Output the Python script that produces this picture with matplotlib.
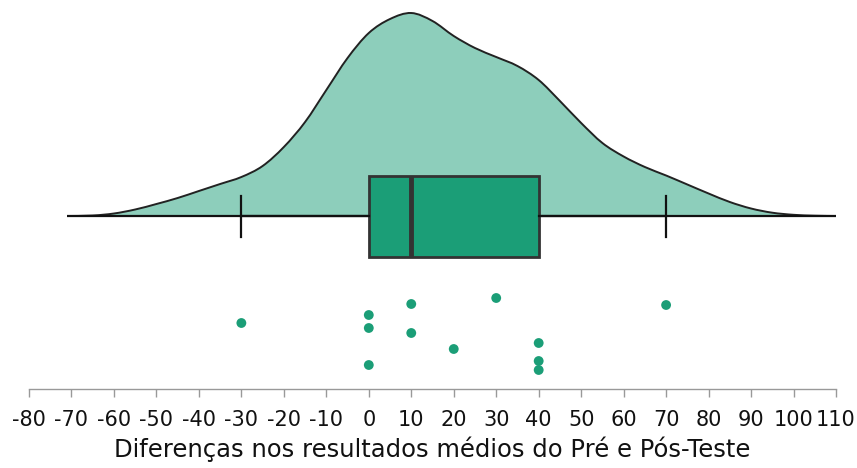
import numpy as np
import matplotlib
matplotlib.use("Agg")
import matplotlib.pyplot as plt
from matplotlib.path import Path
from matplotlib.patches import PathPatch

# observed differences (pre vs post) and their vertical jitter in the rain
pontos = [-30, 0, 0, 0, 10, 10, 20, 30, 40, 40, 40, 70]
jitter = [66, 74, 61, 24, 85, 56, 40, 91, 46, 28, 19, 84]

# box summary as shown
q1, mediana, q3 = 0, 10, 40
bigode_min, bigode_max = -30, 70

# density (cloud), relative height
dens_x = [-71, -65, -60, -55, -50, -45, -40, -35, -30, -25, -20, -15, -10, -5,
          0, 5, 10, 15, 20, 25, 30, 35, 40, 45, 50, 55, 60, 65, 70, 75, 80,
          85, 90, 95, 100, 105, 110]
dens_h = [0, 0.5, 2.5, 6.5, 12, 18, 25, 32, 39, 50, 69, 94, 126, 158,
          183, 197, 203, 195, 180, 168, 159, 150, 136, 115, 93, 73, 59.5, 49, 40.5, 31.5, 22.5,
          14, 7.5, 3.3, 1.2, 0.3, 0]

verde = "#1b9e77"
verde_claro = "#8dcebb"

fig = plt.figure(figsize=(8.57, 4.68), dpi=100)
ax = fig.add_axes([29 / 857, 1 - 389 / 468, 807 / 857, 389 / 468])

base = 173
xs = np.array(dens_x, dtype=float)
ys = base + np.array(dens_h, dtype=float) / max(dens_h) * 203

# smooth curve through the read points (catmull-rom -> bezier)
P = np.column_stack([xs, ys])
Pp = np.vstack([P[0], P, P[-1]])
verts = [tuple(P[0])]
codes = [Path.MOVETO]
for i in range(1, len(Pp) - 2):
    p0, p1, p2, p3 = Pp[i - 1], Pp[i], Pp[i + 1], Pp[i + 2]
    c1 = p1 + (p2 - p0) / 6
    c2 = p2 - (p3 - p1) / 6
    verts += [tuple(c1), tuple(c2), tuple(p2)]
    codes += [Path.CURVE4] * 3
curva = Path(verts, codes)
fechada = Path(verts + [(xs[-1], base), (xs[0], base), (xs[0], base)],
               codes + [Path.LINETO, Path.LINETO, Path.CLOSEPOLY])
ax.add_patch(PathPatch(fechada, facecolor=verde_claro, edgecolor="none", zorder=1))
ax.add_patch(PathPatch(curva, facecolor="none", edgecolor="#222222", lw=1.4, zorder=2))
ax.hlines(base, xs[0], xs[-1], color="#111111", lw=1.6, zorder=2)

# boxplot
stats = [dict(med=mediana, q1=q1, q3=q3, whislo=bigode_min, whishi=bigode_max, fliers=[])]
ax.bxp(stats, positions=[base], widths=81, orientation="horizontal", patch_artist=True,
       showfliers=False, capwidths=41,
       boxprops=dict(facecolor=verde, edgecolor="#333333", lw=2),
       medianprops=dict(color="#333333", lw=3.5),
       whiskerprops=dict(color="#111111", lw=1.6),
       capprops=dict(color="#111111", lw=1.6),
       manage_ticks=False, zorder=3)

# rain
ax.scatter(pontos, jitter, s=50, color=verde, edgecolors="none", zorder=3)

ax.set_xlim(-80, 110)
ax.set_ylim(0, 389)
ticks = list(range(-80, 111, 10))
ax.set_xticks(ticks)
ax.set_xticklabels([str(t) for t in ticks])
ax.set_yticks([])
for s in ["top", "right", "left"]:
    ax.spines[s].set_visible(False)
ax.spines["bottom"].set_color("#999999")
ax.spines["bottom"].set_linewidth(1)
ax.tick_params(axis="x", direction="out", length=6, width=1, color="#999999",
               pad=9, labelsize=15, labelcolor="#111111")
ax.set_xlabel("Diferenças nos resultados médios do Pré e Pós-Teste", fontsize=17.5,
              color="#111111", labelpad=5)

fig.savefig("out.png", dpi=100)
